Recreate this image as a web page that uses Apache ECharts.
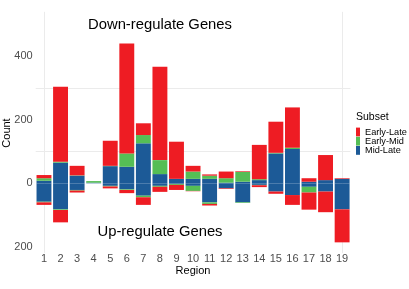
<!DOCTYPE html>
<html>
<head>
<meta charset="utf-8">
<script src="https://cdn.jsdelivr.net/npm/echarts@6/dist/echarts.min.js"></script>
<style>html,body{margin:0;padding:0;background:#fff;}#c{width:409px;height:289px;}</style>
</head>
<body>
<div id="c"></div>
<script>
var regions = ['1','2','3','4','5','6','7','8','9','10','11','12','13','14','15','16','17','18','19'];
// Down-regulated (positive) counts per subset
var downMidLate   = [8, 65, 24, 2, 54, 52, 126, 29, 14, 14, 14, 2, 5, 10, 94, 108, 5, 10, 14];
var downEarlyMid  = [8, 3, 1, 5, 1, 42, 26, 44, null, 23, 10, 14, 31, 3, 2, 4, null, null, null];
var downEarlyLate = [10, 236, 30, null, 79, 346, 37, 294, 117, 18, 4, 21, 2, 108, 98, 127, 11, 79, 2];
// Up-regulated (negative) counts per subset
var upMidLate   = [-58, -82, -21, null, -8, -19, -39, -8, -2, -8, -60, -16, -60, -5, -26, -37, -11, -26, -82];
var upEarlyMid  = [-2, -2, -2, null, -2, -2, -5, -3, -3, -16, -5, null, -2, -1, null, null, -18, null, null];
var upEarlyLate = [-8, -39, -6, null, -6, -10, -24, -16, -16, -1, -5, -2, null, -6, -7, -31, -54, -65, -104];
var yTickLabels = [400, 200, 0, -200];
var gridLinesY = [100, 300];
var gridLinesXIndex = [0, 18];

var RED = '#EE1C23', GREEN = '#55BE55', BLUE = '#1C5A97';
var FONT = 'Liberation Sans, Arial, sans-serif';
var GRIDCOL = '#EBEBEB', NONE = 'rgba(0,0,0,0)';

var Y_MIN = -220, Y_MAX = 540, Y_STEP = 20;
var yLineColors = [];
for (var v = Y_MIN; v <= Y_MAX; v += Y_STEP) yLineColors.push(gridLinesY.indexOf(v) >= 0 ? GRIDCOL : NONE);
yLineColors.push(NONE);

// helper value axis for vertical grid lines at category centres
var X_MIN = -0.5, X_MAX = regions.length - 0.5, X_STEP = 0.5;
var xLineColors = [];
for (var x = X_MIN; x <= X_MAX + 1e-9; x += X_STEP) {
  var isLine = Math.abs(x - Math.round(x)) < 1e-9 && gridLinesXIndex.indexOf(Math.round(x)) >= 0;
  xLineColors.push(isLine ? GRIDCOL : NONE);
}
xLineColors.push(NONE);

function bar(name, data, color) {
  return {
    name: name, type: 'bar', stack: 'all', stackStrategy: 'samesign',
    data: data, barWidth: '90%', xAxisIndex: 0,
    itemStyle: { color: color, borderWidth: 0 },
    emphasis: { disabled: true }
  };
}

var series = [
  bar('Mid-Late', downMidLate, BLUE),
  bar('Mid-Late', upMidLate, BLUE),
  bar('Early-Mid', downEarlyMid, GREEN),
  bar('Early-Mid', upEarlyMid, GREEN),
  bar('Early-Late', downEarlyLate, RED),
  bar('Early-Late', upEarlyLate, RED)
];

var chart = echarts.init(document.getElementById('c'), null, { renderer: 'canvas' });
chart.setOption({
  animation: false,
  backgroundColor: '#fff',
  textStyle: { fontFamily: FONT },
  grid: { left: 35.7, right: 58.6, top: 11.85, bottom: 35.85, containLabel: false, outerBoundsMode: 'none' },
  xAxis: [{
    type: 'category', data: regions, boundaryGap: true,
    axisLine: { show: false }, axisTick: { show: false },
    axisLabel: { color: '#4D4D4D', fontSize: 11, margin: 0, interval: 0, fontFamily: FONT },
    splitLine: { show: false }
  }, {
    type: 'value', min: X_MIN, max: X_MAX, interval: X_STEP, position: 'bottom',
    axisLine: { show: false }, axisTick: { show: false }, axisLabel: { show: false },
    splitLine: { show: true, lineStyle: { color: xLineColors, width: 1 } }
  }],
  yAxis: {
    type: 'value', min: Y_MIN, max: Y_MAX, interval: Y_STEP,
    axisLine: { show: false }, axisTick: { show: false },
    splitLine: { show: true, lineStyle: { color: yLineColors, width: 1 } },
    axisLabel: {
      color: '#4D4D4D', fontSize: 11, margin: 3, fontFamily: FONT,
      formatter: function (v) {
        return yTickLabels.indexOf(v) >= 0 ? String(Math.abs(v)) : '';
      }
    }
  },
  legend: {
    orient: 'vertical', left: 356, top: 127.5, padding: 0,
    itemWidth: 4, itemHeight: 8.8, itemGap: 0.2,
    icon: 'rect',
    itemStyle: { borderWidth: 0 },
    data: ['Early-Late', 'Early-Mid', 'Mid-Late'],
    textStyle: { fontSize: 9.2, lineHeight: 8.8, color: '#000', fontFamily: FONT },
    selectedMode: false
  },
  graphic: [
    { type: 'text', x: 7, y: 133, rotation: Math.PI / 2, style: { text: 'Count', font: '11px ' + FONT, fill: '#000', align: 'center', verticalAlign: 'middle' } },
    { type: 'text', x: 193, y: 270.5, style: { text: 'Region', font: '11px ' + FONT, fill: '#000', align: 'center', verticalAlign: 'middle' } },
    { type: 'text', left: 356, top: 112, style: { text: 'Subset', font: '10.5px ' + FONT, fill: '#000' } },
    { type: 'text', x: 160, y: 24.5, style: { text: 'Down-regulate Genes', font: '14.8px ' + FONT, fill: '#000', align: 'center', verticalAlign: 'middle' } },
    { type: 'text', x: 160, y: 231.5, style: { text: 'Up-regulate Genes', font: '14.8px ' + FONT, fill: '#000', align: 'center', verticalAlign: 'middle' } }
  ],
  series: series
});
</script>
</body>
</html>
